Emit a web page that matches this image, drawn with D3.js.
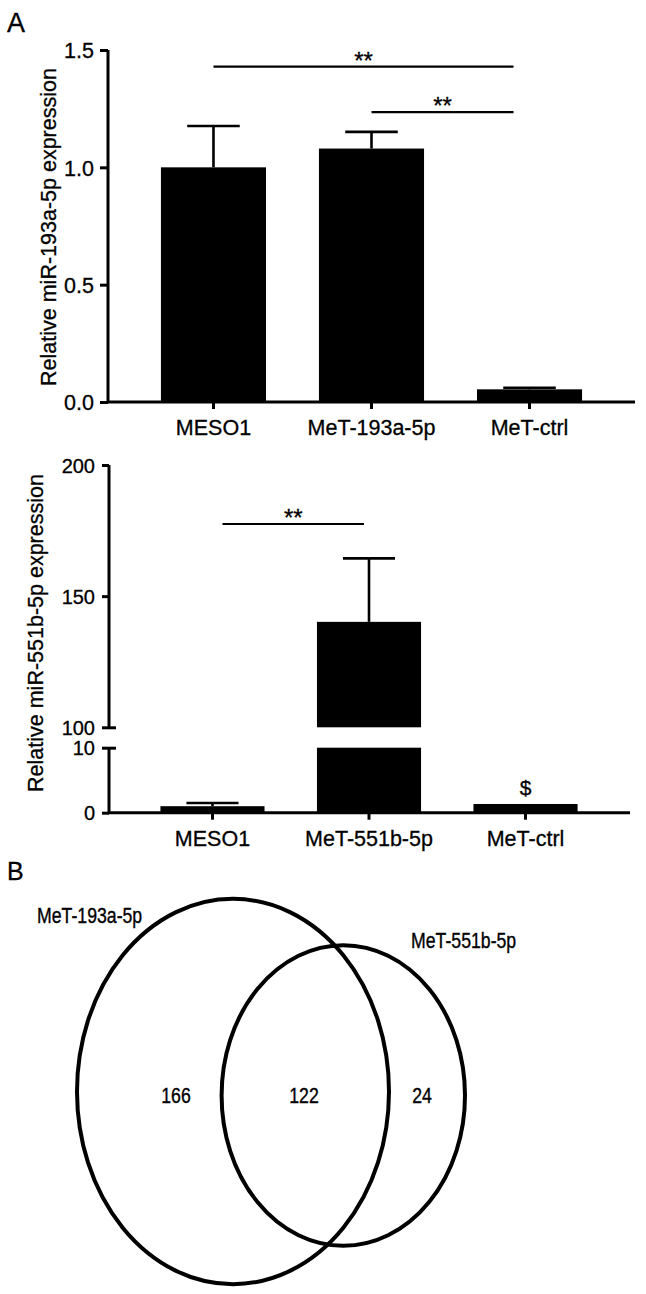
<!DOCTYPE html>
<html>
<head>
<meta charset="utf-8">
<script src="https://cdn.jsdelivr.net/npm/d3@7"></script>
<style>
  html, body { margin: 0; padding: 0; background: #fff; }
  svg { display: block; font-family: "Liberation Sans", Arial, Helvetica, sans-serif; }
  svg text { fill: #000; stroke: #000; stroke-width: 0.3px; }
</style>
</head>
<body>
<script>
// ---------- DATA ----------
const categoriesA1 = ["MESO1", "MeT-193a-5p", "MeT-ctrl"];
const valuesA1 = [1.00, 1.08, 0.054];
const errorsA1 = [0.176, 0.071, 0.007];
const ticksA1 = [0.0, 0.5, 1.0, 1.5];
const yLabelA1 = "Relative miR-193a-5p expression";
const sigA1 = [ // [fromIndex, toIndex, y-value, label]
  [0, 2, 1.429, "**"],
  [1, 2, 1.235, "**"]
];

const categoriesA2 = ["MESO1", "MeT-551b-5p", "MeT-ctrl"];
const valuesA2 = [1.0, 140.2, 1.34];
const errorsA2 = [0.5, 24.2, 0.0];
const ticksA2Low = [0, 10];
const ticksA2High = [100, 150, 200];
const yLabelA2 = "Relative miR-551b-5p expression";
const sigA2 = [[0, 1, 177.5, "**"]];
const markA2 = [[2, "$"]];

const vennSets = ["MeT-193a-5p", "MeT-551b-5p"];
const vennCounts = [166, 122, 24]; // only A, A∩B, only B

// ---------- DRAW ----------
const W = 646, H = 1294;
const svg = d3.select("body").append("svg").attr("width", W).attr("height", H);
const FONT = "\"Liberation Sans\", Arial, Helvetica, sans-serif";

svg.append("text").attr("x", 7).attr("y", 32).attr("font-size", 27).text("A");
svg.append("text").attr("x", 7).attr("y", 880).attr("font-size", 25).text("B");

function styleTickText(sel, size, dy, sy) {
  sel.attr("font-size", size).attr("font-family", FONT).attr("fill", "#000").attr("dy", dy);
}

// ===== Panel A1 =====
{
  const x = d3.scaleBand().domain(categoriesA1).range([108, 635]).paddingInner(0.335).paddingOuter(0.335);
  const y = d3.scaleLinear().domain([0, 1.5]).range([402, 50]);
  const g = svg.append("g");
  const bw = x.bandwidth();

  g.selectAll("rect.bar").data(categoriesA1).join("rect")
    .attr("x", d => x(d)).attr("width", bw)
    .attr("y", (d, i) => y(valuesA1[i])).attr("height", (d, i) => y(0) - y(valuesA1[i]))
    .attr("fill", "#000");
  categoriesA1.forEach((c, i) => {
    const cx = x(c) + bw / 2, top = y(valuesA1[i] + errorsA1[i]);
    g.append("line").attr("x1", cx).attr("x2", cx).attr("y1", y(valuesA1[i])).attr("y2", top)
      .attr("stroke", "#000").attr("stroke-width", 2.6);
    g.append("line").attr("x1", cx - bw / 4).attr("x2", cx + bw / 4).attr("y1", top).attr("y2", top)
      .attr("stroke", "#000").attr("stroke-width", 2.6);
  });

  const ya = g.append("g").attr("transform", "translate(108,0)")
    .call(d3.axisLeft(y).tickValues(ticksA1).tickFormat(d3.format(".1f")).tickSize(8).tickPadding(6));
  ya.select(".domain").attr("stroke-width", 3).attr("d", `M0,${y(0)}V${y(1.5)}`);
  ya.selectAll(".tick line").attr("stroke-width", 3);
  styleTickText(ya.selectAll(".tick text"), 21.5, "0.36em");

  const xa = g.append("g").attr("transform", `translate(0,${y(0)})`)
    .call(d3.axisBottom(x).tickSize(7).tickPadding(11));
  xa.select(".domain").attr("stroke-width", 3).attr("d", "M108,0H635");
  xa.selectAll(".tick line").attr("stroke-width", 3);
  styleTickText(xa.selectAll(".tick text"), 21.5, "0.72em");

  g.append("text").attr("transform", "translate(56,227) rotate(-90)")
    .attr("text-anchor", "middle").attr("font-size", 21.5).text(yLabelA1);

  const trims = [[0, -16], [0, -16]];
  sigA1.forEach((s, k) => {
    const x1 = x(categoriesA1[s[0]]) + bw / 2 + trims[k][0];
    const x2 = x(categoriesA1[s[1]]) + bw / 2 + trims[k][1];
    const yy = y(s[2]);
    g.append("line").attr("x1", x1).attr("x2", x2).attr("y1", yy).attr("y2", yy)
      .attr("stroke", "#000").attr("stroke-width", 2.2);
    g.append("text").attr("x", (x1 + x2) / 2).attr("y", yy + 2).attr("text-anchor", "middle")
      .attr("font-size", 24).text(s[3]);
  });
}

// ===== Panel A2 (broken axis) =====
{
  const x = d3.scaleBand().domain(categoriesA2).range([108, 630]).paddingInner(0.335).paddingOuter(0.335);
  const yLow = d3.scaleLinear().domain([0, 10]).range([812.7, 747.7]);
  const yHigh = d3.scaleLinear().domain([100, 200]).range([727.3, 465]);
  const g = svg.append("g");
  const bw = x.bandwidth();
  const yv = v => (v <= 10 ? yLow(v) : (v >= 100 ? yHigh(v) : null));

  categoriesA2.forEach((c, i) => {
    const v = valuesA2[i];
    const vl = Math.min(v, 10);
    g.append("rect").attr("x", x(c)).attr("width", bw)
      .attr("y", yLow(vl)).attr("height", yLow(0) - yLow(vl)).attr("fill", "#000");
    if (v > 100) {
      g.append("rect").attr("x", x(c)).attr("width", bw)
        .attr("y", yHigh(v)).attr("height", yHigh(100) - yHigh(v)).attr("fill", "#000");
    }
    if (errorsA2[i] > 0) {
      const cx = x(c) + bw / 2, top = yv(v + errorsA2[i]);
      g.append("line").attr("x1", cx).attr("x2", cx).attr("y1", yv(v)).attr("y2", top)
        .attr("stroke", "#000").attr("stroke-width", 2.6);
      g.append("line").attr("x1", cx - bw / 4).attr("x2", cx + bw / 4).attr("y1", top).attr("y2", top)
        .attr("stroke", "#000").attr("stroke-width", 2.6);
    }
  });

  const yaH = g.append("g").attr("transform", "translate(109,0)")
    .call(d3.axisLeft(yHigh).tickValues(ticksA2High).tickSize(7).tickPadding(7));
  yaH.select(".domain").attr("stroke-width", 3).attr("d", `M0,${yHigh(100)}V${yHigh(200)}`);
  const yaL = g.append("g").attr("transform", "translate(109,0)")
    .call(d3.axisLeft(yLow).tickValues(ticksA2Low).tickSize(7).tickPadding(7));
  yaL.select(".domain").attr("stroke-width", 3).attr("d", `M0,${yLow(0)}V${yLow(10)}`);
  [yaH, yaL].forEach(a => {
    a.selectAll(".tick line").attr("stroke-width", 3);
    styleTickText(a.selectAll(".tick text"), 20, "0.36em");
  });
  yaH.selectAll(".tick").filter(d => d === 100).select("line").attr("x1", 7);
  yaL.selectAll(".tick").filter(d => d === 10).select("line").attr("x1", 7);

  const xa = g.append("g").attr("transform", `translate(0,${yLow(0)})`)
    .call(d3.axisBottom(x).tickSize(7).tickPadding(11));
  xa.select(".domain").attr("stroke-width", 3).attr("d", "M108,0H630");
  xa.selectAll(".tick line").attr("stroke-width", 3);
  styleTickText(xa.selectAll(".tick text"), 21.5, "0.72em");

  g.append("text").attr("transform", "translate(43,633) rotate(-90)")
    .attr("text-anchor", "middle").attr("font-size", 21.5).text(yLabelA2);

  const trims = [[10, -5]];
  sigA2.forEach((s, k) => {
    const x1 = x(categoriesA2[s[0]]) + bw / 2 + trims[k][0];
    const x2 = x(categoriesA2[s[1]]) + bw / 2 + trims[k][1];
    const yy = yv(s[2]);
    g.append("line").attr("x1", x1).attr("x2", x2).attr("y1", yy).attr("y2", yy)
      .attr("stroke", "#000").attr("stroke-width", 2.2);
    g.append("text").attr("x", (x1 + x2) / 2).attr("y", yy + 2).attr("text-anchor", "middle")
      .attr("font-size", 24).text(s[3]);
  });
  markA2.forEach(m => {
    const c = categoriesA2[m[0]];
    g.append("text").attr("x", x(c) + bw / 2).attr("y", yv(valuesA2[m[0]]) - 8.5)
      .attr("text-anchor", "middle").attr("font-size", 21).text(m[1]);
  });
}

// ===== Panel B (Venn) =====
{
  const g = svg.append("g");
  const stretch = 1.235; // the Venn panel is stretched vertically
  const ell = [
    { cx: 233, cy: 1091.5, rx: 156, ry: 156 * stretch },
    { cx: 343.3, cy: 1095.5, rx: 121.7, ry: 121.7 * stretch }
  ];
  g.selectAll("ellipse").data(ell).join("ellipse")
    .attr("cx", d => d.cx).attr("cy", d => d.cy).attr("rx", d => d.rx).attr("ry", d => d.ry)
    .attr("fill", "none").attr("stroke", "#000").attr("stroke-width", 4);

  const vtext = (x, y, t, anchor) => g.append("text")
    .attr("transform", `translate(${x},${y}) scale(1,${stretch})`)
    .attr("text-anchor", anchor).attr("font-size", 17.7).text(t);

  vtext(37, 923, vennSets[0], "start");
  vtext(411, 948, vennSets[1], "start");
  const numX = [176, 304, 422];
  vennCounts.forEach((n, i) => vtext(numX[i], 1103, n, "middle"));
}
</script>
</body>
</html>
